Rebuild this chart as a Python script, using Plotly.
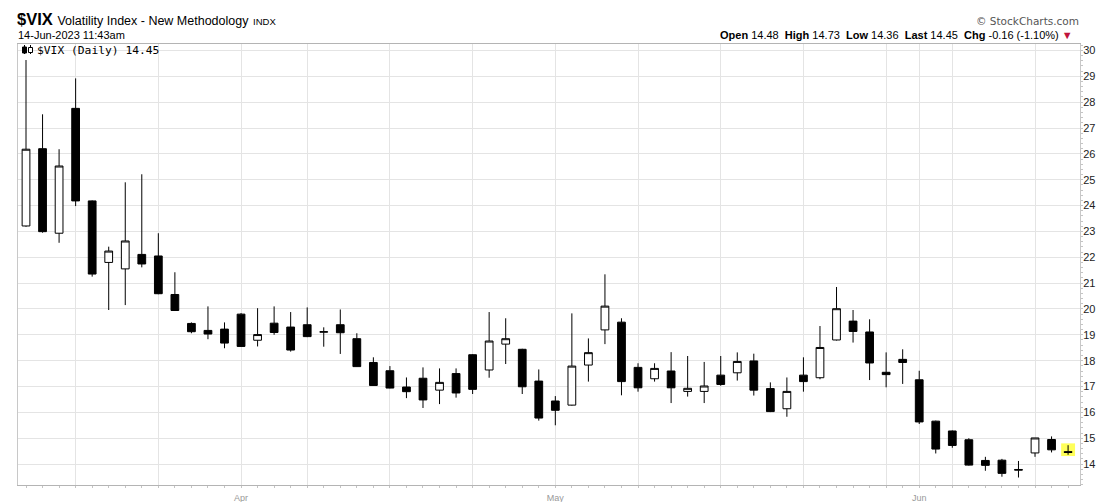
import plotly.graph_objects as go
import datetime as _dt

# ---------------- data ----------------
dates = [
    "2023-03-15", "2023-03-16", "2023-03-17", "2023-03-20", "2023-03-21", "2023-03-22", "2023-03-23",
    "2023-03-24", "2023-03-27", "2023-03-28", "2023-03-29", "2023-03-30", "2023-03-31",
    "2023-04-03", "2023-04-04", "2023-04-05", "2023-04-06", "2023-04-10", "2023-04-11", "2023-04-12",
    "2023-04-13", "2023-04-14", "2023-04-17", "2023-04-18", "2023-04-19", "2023-04-20", "2023-04-21",
    "2023-04-24", "2023-04-25", "2023-04-26", "2023-04-27", "2023-04-28",
    "2023-05-01", "2023-05-02", "2023-05-03", "2023-05-04", "2023-05-05", "2023-05-08", "2023-05-09",
    "2023-05-10", "2023-05-11", "2023-05-12", "2023-05-15", "2023-05-16", "2023-05-17", "2023-05-18",
    "2023-05-19", "2023-05-22", "2023-05-23", "2023-05-24", "2023-05-25", "2023-05-26", "2023-05-30",
    "2023-05-31",
    "2023-06-01", "2023-06-02", "2023-06-05", "2023-06-06", "2023-06-07", "2023-06-08", "2023-06-09",
    "2023-06-12", "2023-06-13", "2023-06-14",
]
open_ = [
    23.21, 26.20, 22.93, 27.76, 24.18, 21.80, 21.55, 22.11, 22.05, 20.56, 19.44, 19.17, 19.22,
    19.80, 18.79, 19.45, 19.30, 19.39, 19.10, 19.39, 18.85, 17.93, 17.61, 16.98, 17.32, 16.86, 17.50,
    18.23, 17.64, 18.64, 18.44, 17.21,
    16.44, 16.28, 17.83, 19.19, 19.49, 17.74, 17.30, 17.60, 16.81, 16.81, 17.44, 17.53, 17.99, 16.92,
    16.14, 17.44, 17.34, 18.80, 19.53, 19.11, 17.55, 18.05,
    17.26, 15.66, 15.28, 14.94, 14.14, 14.15, 13.76, 14.43, 14.95, 14.48,
]
high = [
    29.63, 27.53, 26.18, 28.92, 24.20, 22.41, 24.90, 25.21, 22.93, 21.42, 19.48, 20.10, 19.48,
    19.84, 20.03, 20.10, 19.88, 20.06, 19.29, 19.98, 19.06, 18.13, 17.79, 17.35, 17.74, 17.70, 17.70,
    18.25, 19.88, 19.64, 18.46, 17.66,
    16.63, 19.83, 18.86, 21.34, 19.64, 17.90, 17.90, 18.33, 18.18, 17.95, 18.18, 18.32, 18.27, 17.16,
    17.35, 18.13, 19.34, 20.85, 19.96, 19.60, 18.32, 18.44,
    17.61, 15.68, 15.30, 15.00, 14.28, 14.20, 14.12, 15.01, 15.07, 14.73,
]
low = [
    23.18, 22.95, 22.56, 23.98, 21.25, 19.96, 20.15, 21.61, 20.57, 19.92, 19.06, 18.83, 18.48,
    18.53, 18.55, 19.00, 18.35, 18.91, 18.54, 18.26, 17.76, 17.03, 16.93, 16.55, 16.17, 16.32, 16.57,
    16.71, 17.34, 17.87, 16.71, 15.68,
    15.50, 16.26, 17.19, 18.64, 16.66, 16.80, 17.19, 16.36, 16.61, 16.36, 17.03, 17.23, 16.65, 16.01,
    15.83, 16.80, 17.28, 18.78, 18.70, 17.25, 16.97, 17.10,
    15.55, 14.41, 14.63, 13.94, 13.74, 13.51, 13.48, 14.28, 14.45, 14.36,
]
close = [
    26.18, 22.99, 25.53, 24.18, 21.35, 22.24, 22.63, 21.74, 20.59, 19.94, 19.12, 19.03, 18.68,
    18.55, 19.01, 19.09, 18.41, 18.93, 19.12, 19.08, 17.77, 17.04, 16.94, 16.80, 16.48, 17.16, 16.75,
    16.89, 18.76, 18.85, 16.99, 15.78,
    16.08, 17.79, 18.31, 20.11, 17.19, 16.95, 17.70, 16.95, 16.93, 17.02, 17.08, 17.97, 16.86, 16.03,
    16.81, 17.19, 18.51, 20.01, 19.13, 17.91, 17.46, 17.93,
    15.63, 14.58, 14.72, 13.96, 13.95, 13.64, 13.79, 15.01, 14.55, 14.45,
]
y_ticks = list(range(14, 31))
month_names = {"04": "Apr", "05": "May", "06": "Jun"}

symbol = "$VIX"
last_open, last_high, last_low, last_close = 14.48, 14.73, 14.36, 14.45
chg, chg_pct = -0.16, -1.10

# ---------------- derived ----------------
idx = list(range(len(dates)))
dobj = [_dt.date.fromisoformat(d) for d in dates]

grid_pos = []
month_pos = {}
for i in range(1, len(dobj)):
    new_week = dobj[i].isocalendar()[1] != dobj[i - 1].isocalendar()[1]
    new_month = dobj[i].month != dobj[i - 1].month
    if new_week or new_month:
        grid_pos.append(i)
    if new_month:
        month_pos[i] = month_names.get(dates[i][5:7], "")
tick_text = [month_pos.get(i, "") for i in grid_pos]

# plot area in pixels
W, H = 1117, 502
L, R, T, B = 18, 1080, 44, 485


def px(x):
    return (x - L) / (R - L)


def py(y):
    return (B - y) / (B - T)


fig = go.Figure()

fig.add_trace(go.Candlestick(
    x=idx, open=open_, high=high, low=low, close=close,
    hovertext=dates, hoverinfo="text+y",
    increasing=dict(line=dict(color="#000000", width=1), fillcolor="#ffffff"),
    decreasing=dict(line=dict(color="#000000", width=1), fillcolor="#000000"),
    showlegend=False,
))

# yellow highlight behind last candle
last_i = idx[-1]
fig.add_shape(type="rect", xref="x", yref="y",
              x0=last_i - 0.42, x1=last_i + 0.42,
              y0=low[-1] - 0.05, y1=high[-1] + 0.07,
              fillcolor="#ffff5a", line=dict(width=0), layer="below")

# legend icon (tiny candle glyph)
fig.add_shape(type="line", xref="paper", yref="paper", x0=px(24.5), x1=px(24.5), y0=py(54), y1=py(45),
              line=dict(color="#000", width=1))
fig.add_shape(type="rect", xref="paper", yref="paper", x0=px(22.5), x1=px(26.5), y0=py(53), y1=py(47),
              fillcolor="#000", line=dict(color="#000", width=1))
fig.add_shape(type="line", xref="paper", yref="paper", x0=px(30.5), x1=px(30.5), y0=py(54), y1=py(45),
              line=dict(color="#000", width=1))
fig.add_shape(type="rect", xref="paper", yref="paper", x0=px(28.5), x1=px(32.5), y0=py(52.5), y1=py(47.5),
              fillcolor="#fff", line=dict(color="#000", width=1))

ann = []
ann.append(dict(
    x=px(15), y=py(19.5), xref="paper", yref="paper", xanchor="left", yanchor="middle", showarrow=False,
    text=("<b>" + symbol + "</b> <span style='font-size:12.5px'>Volatility Index - New Methodology</span>"
          " <span style='font-size:9.5px'>INDX</span>"),
    font=dict(family="Liberation Sans, Arial, sans-serif", size=16.5, color="#000"),
))
ann.append(dict(
    x=px(16), y=py(35), xref="paper", yref="paper", xanchor="left", yanchor="middle", showarrow=False,
    text="14-Jun-2023 11:43am",
    font=dict(family="Liberation Sans, Arial, sans-serif", size=11, color="#000"),
))
ann.append(dict(
    x=px(1081), y=py(21), xref="paper", yref="paper", xanchor="right", yanchor="middle", showarrow=False,
    text="© StockCharts.com",
    font=dict(family="DejaVu Sans, sans-serif", size=10.5, color="#555"),
))
ohlc_txt = ("<b>Open</b> %.2f  <b>High</b> %.2f  <b>Low</b> %.2f  <b>Last</b> %.2f  <b>Chg</b> %.2f (%.2f%%) "
            "<span style='color:#c0143c'>▼</span>" % (last_open, last_high, last_low, last_close, chg, chg_pct))
ann.append(dict(
    x=px(1075), y=py(35), xref="paper", yref="paper", xanchor="right", yanchor="middle", showarrow=False,
    text=ohlc_txt,
    font=dict(family="Liberation Sans, Arial, sans-serif", size=11, color="#000"),
))
ann.append(dict(
    x=px(35), y=py(50.5), xref="paper", yref="paper", xanchor="left", yanchor="middle", showarrow=False,
    text="%s (Daily) %.2f" % (symbol, last_close),
    font=dict(family="DejaVu Sans Mono, monospace", size=11.3, color="#000"),
))

fig.update_layout(
    width=W, height=H,
    margin=dict(l=L, r=W - R, t=T, b=H - B, pad=0, autoexpand=False),
    paper_bgcolor="#ffffff", plot_bgcolor="#ffffff",
    showlegend=False,
    boxgap=0.33,
    annotations=ann,
    font=dict(family="Liberation Sans, Arial, sans-serif", size=11, color="#222"),
    xaxis=dict(
        range=[-0.484, 63.72],
        automargin=False,
        rangeslider=dict(visible=False),
        tickmode="array", tickvals=grid_pos, ticktext=tick_text,
        showgrid=True, gridcolor="#e4e4e4", gridwidth=1,
        zeroline=False,
        showline=True, linecolor="#b4b4b4", linewidth=1, mirror=True,
        ticks="", tickfont=dict(size=9, color="#999"),
        ticklabelstandoff=4,
        minor=dict(tick0=0, dtick=1, ticks="outside", ticklen=2, tickcolor="#c4c4c4", showgrid=False),
        fixedrange=True,
    ),
    yaxis=dict(
        range=[13.19, 30.25],
        automargin=False,
        side="right",
        tickmode="array", tickvals=y_ticks, ticktext=[str(v) for v in y_ticks],
        showgrid=True, gridcolor="#e4e4e4", gridwidth=1,
        zeroline=False,
        showline=True, linecolor="#c8c8c8", linewidth=1, mirror=True,
        ticks="", tickfont=dict(size=11, color="#222"),
        minor=dict(dtick=0.2, ticks="outside", ticklen=2, tickcolor="#c4c4c4", showgrid=False),
        fixedrange=True,
    ),
)

fig.write_html("out.html", config={"displayModeBar": False},
               post_script="document.body.style.margin='0';document.body.style.overflow='hidden';")
